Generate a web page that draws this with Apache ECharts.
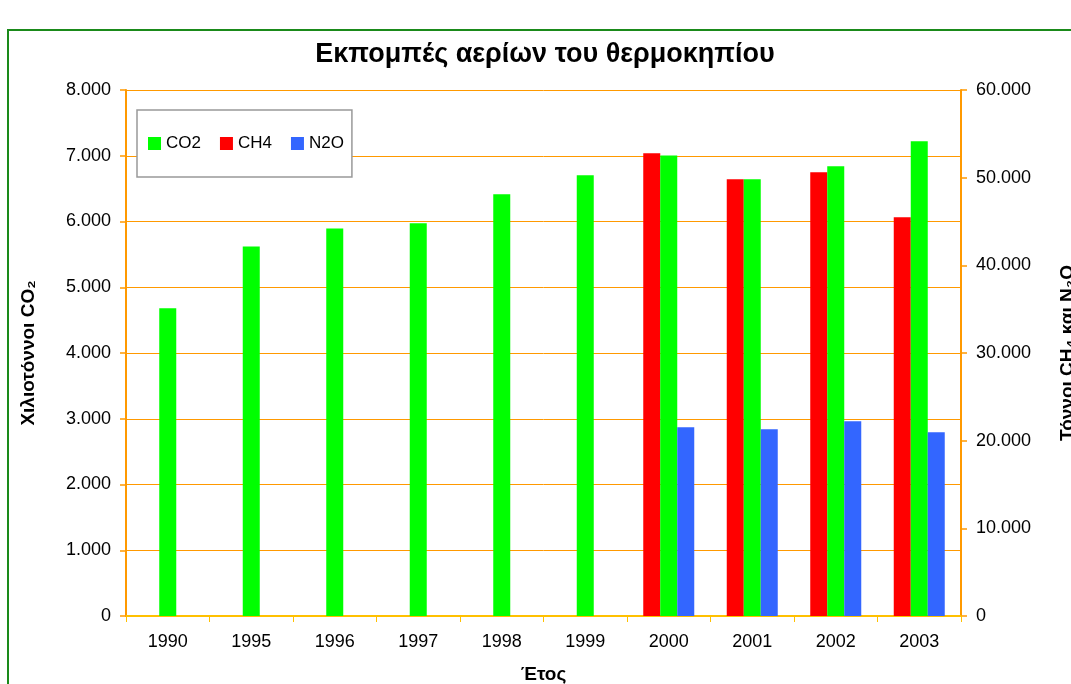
<!DOCTYPE html>
<html>
<head>
<meta charset="utf-8">
<script src="https://cdn.jsdelivr.net/npm/echarts@6/dist/echarts.min.js"></script>
<style>
  html, body { margin: 0; padding: 0; background: #fff; }
  #chart { width: 1071px; height: 684px; }
</style>
</head>
<body>
<div id="chart"></div>
<script>
const years = ['1990', '1995', '1996', '1997', '1998', '1999', '2000', '2001', '2002', '2003']
const co2 = [4680, 5620, 5895, 5972, 6414, 6703, 7005, 6642, 6840, 7220]
const ch4 = [null, null, null, null, null, null, 52780, 49810, 50610, 45480]
const n2o = [null, null, null, null, null, null, 21520, 21300, 22210, 20950]

const font = 'Liberation Sans, Arial, sans-serif'
const axisOrange = '#FF9900'

function greekNum(v) {
  return String(v).replace(/\B(?=(\d{3})+(?!\d))/g, '.')
}

const chart = echarts.init(document.getElementById('chart'))

chart.setOption({
  backgroundColor: '#fff',
  animation: false,
  textStyle: { fontFamily: font },
  graphic: [
    {
      type: 'rect',
      shape: { x: 8, y: 30, width: 1100, height: 700 },
      style: { fill: 'none', stroke: '#1a8a1a', lineWidth: 2 },
      silent: true
    }
  ],
  title: {
    text: 'Εκπομπές αερίων του θερμοκηπίου',
    left: 540,
    top: 36,
    textAlign: 'center',
    textStyle: { fontFamily: font, fontSize: 27, fontWeight: 'bold', color: '#000' }
  },
  legend: {
    left: 137,
    top: 110,
    orient: 'horizontal',
    data: ['CO2', 'CH4', 'N2O'],
    icon: 'rect',
    itemWidth: 13,
    itemHeight: 13,
    itemGap: 19,
    padding: [25, 8, 25, 11],
    borderColor: '#999',
    borderWidth: 1.5,
    backgroundColor: '#fff',
    textStyle: { fontFamily: font, fontSize: 17, color: '#000' }
  },
  grid: {
    left: 126,
    right: 110,
    top: 90,
    bottom: 68,
    outerBoundsMode: 'none'
  },
  xAxis: {
    type: 'category',
    data: years,
    name: 'Έτος',
    nameLocation: 'middle',
    nameGap: 49,
    nameTextStyle: { fontFamily: font, fontSize: 19, fontWeight: 'bold', color: '#000' },
    axisLine: { lineStyle: { color: '#FFC000', width: 2 } },
    axisTick: { show: true, length: 6, lineStyle: { color: '#FFC000', width: 1 } },
    axisLabel: { color: '#000', fontSize: 18, margin: 17, fontFamily: font },
    splitLine: { show: false }
  },
  yAxis: [
    {
      type: 'value',
      min: 0,
      max: 8000,
      interval: 1000,
      position: 'left',
      name: 'Χιλιοτόννοι CO₂',
      nameLocation: 'middle',
      nameRotate: 90,
      nameGap: 88,
      nameTextStyle: { fontFamily: font, fontSize: 19, fontWeight: 'bold', color: '#000' },
      axisLine: { show: true, lineStyle: { color: axisOrange, width: 2 } },
      axisTick: { show: true, length: 6, lineStyle: { color: axisOrange, width: 1.5 } },
      axisLabel: { color: '#000', fontSize: 18, margin: 15, fontFamily: font, formatter: greekNum },
      splitLine: { show: true, lineStyle: { color: axisOrange, width: 1 } }
    },
    {
      type: 'value',
      min: 0,
      max: 60000,
      interval: 10000,
      position: 'right',
      name: 'Τόννοι CH₄ και N₂O',
      nameLocation: 'middle',
      nameRotate: 90,
      nameGap: 97,
      nameTextStyle: { fontFamily: font, fontSize: 19, fontWeight: 'bold', color: '#000' },
      axisLine: { show: true, lineStyle: { color: axisOrange, width: 2 } },
      axisTick: { show: true, length: 6, lineStyle: { color: axisOrange, width: 1.5 } },
      axisLabel: { color: '#000', fontSize: 18, margin: 15, fontFamily: font, formatter: greekNum },
      splitLine: { show: false }
    }
  ],
  series: [
    {
      name: 'CH4',
      type: 'bar',
      yAxisIndex: 1,
      data: ch4,
      barWidth: 17,
      barGap: '0%',
      itemStyle: { color: '#FF0000' }
    },
    {
      name: 'CO2',
      type: 'bar',
      yAxisIndex: 0,
      data: co2,
      barWidth: 17,
      barGap: '0%',
      itemStyle: { color: '#00FF00' }
    },
    {
      name: 'N2O',
      type: 'bar',
      yAxisIndex: 1,
      data: n2o,
      barWidth: 17,
      barGap: '0%',
      itemStyle: { color: '#3366FF' }
    }
  ]
})
</script>
</body>
</html>
